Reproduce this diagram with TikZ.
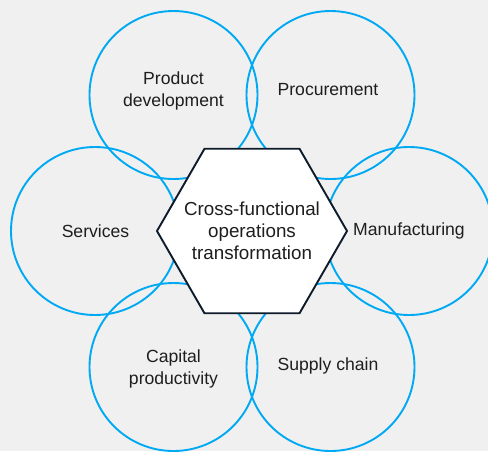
\documentclass[tikz,border=0pt]{standalone}
\usepackage{fontspec}
\setmainfont{Liberation Sans}
\usetikzlibrary{shapes.geometric}
\definecolor{ringblue}{HTML}{00A9F4}
\definecolor{bgray}{HTML}{F0F0F0}
\definecolor{hexline}{HTML}{0D1B2A}
\definecolor{txt}{HTML}{1E1E1E}
\begin{document}
\begin{tikzpicture}[x=1pt,y=-1pt,
  ringnode/.style={circle, draw=ringblue, line width=1.9pt, minimum size=168pt, inner sep=0pt},
  ringtext/.style={text=txt, align=center, font=\fontsize{17.6}{21.5}\selectfont},
  hexnode/.style={regular polygon, regular polygon sides=6, draw=hexline, fill=white, line width=1.9pt, minimum size=190pt, inner sep=0pt},
  hextext/.style={text=txt, align=center, font=\fontsize{18.8}{22}\selectfont}]
\fill[bgray] (0,0) rectangle (488,451);
\useasboundingbox (0,0) rectangle (488,451);
\begin{scope}
\clip (0,0) rectangle (488,451);
\node[ringnode] (pd) at (173.5,95) {};
\node[ringnode] (pr) at (330.5,95) {};
\node[ringnode] (mf) at (409,231) {};
\node[ringnode] (sc) at (330.5,367) {};
\node[ringnode] (cp) at (173.5,367) {};
\node[ringnode] (sv) at (95,231) {};
\end{scope}
\node[ringtext] (pdt) at (173.5,91) {Product\\development};
\node[ringtext] (prt) at (328,90) {Procurement};
\node[ringtext] (mft) at (409,231) {Manufacturing};
\node[ringtext] (sct) at (328,366) {Supply chain};
\node[ringtext] (cpt) at (173.5,369) {Capital\\productivity};
\node[ringtext] (svt) at (95.5,231) {Services};
\node[hexnode] (hex) at (252,231) {};
\node[hextext] (hext) at (hex.center) {Cross-functional\\operations\\transformation};
\end{tikzpicture}
\end{document}
